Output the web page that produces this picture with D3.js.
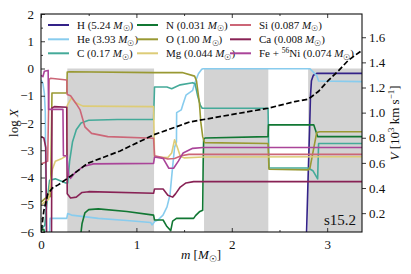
<!DOCTYPE html>
<html><head><meta charset="utf-8">
<script src="https://cdn.jsdelivr.net/npm/d3@7"></script>
<style>
body{margin:0;background:#fff;}
svg text{font-family:"Liberation Serif","DejaVu Serif",serif;fill:#111;}
</style></head><body><svg id="c" width="411" height="274"></svg>
<script>
// ---------- data ----------
const species = ["H","He","C","N","O","Mg","Si","Ca","Fe"];
const speciesMass = ["5.24","3.93","0.17","0.031","1.00","0.044","0.087","0.008","0.074"];
const speciesColor = ["#332288","#88CCEE","#44AA99","#117733","#999933","#DDCC77","#CC6677","#882255","#AA4499"];
const shadedZones = [[0.276,1.185],[1.709,2.383],[2.80,3.365]];

const H  = [[2.780,-6.5],[2.800,-4.0],[2.815,-2.3],[2.825,-1.0],[2.835,-0.45],[2.855,-0.25],[2.89,-0.18],[3.365,-0.18]];
const He = [[0,-0.42],[0.02,-0.55],[0.035,-0.9],[0.045,-1.6],[0.055,-6.5],[0.085,-6.5],[0.095,-5.5],[0.27,-5.5],[0.28,-5.32],[0.32,-5.38],[0.6,-5.5],[0.9,-5.58],[1.15,-5.65],[1.164,-5.74],[1.19,-5.62],[1.226,-5.56],[1.279,-5.38],[1.321,-5.08],[1.352,-4.64],[1.38,-3.6],[1.40,-2.9],[1.42,-2.7],[1.422,-1.62],[1.47,-1.52],[1.49,-1.29],[1.52,-0.98],[1.59,-0.8],[1.61,-0.56],[1.65,-0.19],[1.685,-0.03],[1.70,-0.01],[2.82,-0.01],[2.89,-0.26],[2.91,-0.46],[3.365,-0.48]];
const C  = [[0,-5.9],[0.04,-5.75],[0.06,-5.0],[0.09,-4.1],[0.15,-4.05],[0.26,-4.2],[0.28,-4.2],[0.30,-3.4],[0.33,-2.7],[0.37,-2.25],[0.42,-2.0],[0.5,-1.9],[0.8,-1.87],[1.18,-1.87],[1.19,-0.68],[1.32,-0.68],[1.37,-0.74],[1.42,-0.66],[1.46,-0.6],[1.59,-0.52],[1.615,-0.56],[1.64,-0.97],[1.67,-1.35],[1.69,-1.46],[2.38,-1.46],[2.385,-2.5],[2.39,-3.65],[2.8,-3.65],[2.85,-3.75],[2.9,-4.05],[2.91,-2.75],[3.365,-2.75]];
const N  = [[0,-5.95],[0.03,-5.9],[0.05,-6.3],[0.41,-6.3],[0.43,-5.7],[0.46,-5.3],[0.5,-5.18],[0.6,-5.15],[0.9,-5.25],[1.18,-5.38],[1.19,-5.56],[1.28,-5.56],[1.32,-5.8],[1.36,-5.95],[1.38,-5.6],[1.42,-5.5],[1.6,-5.5],[1.62,-5.4],[1.66,-5.26],[1.695,-5.2],[1.70,-3.5],[1.705,-2.6],[1.72,-2.55],[2.38,-2.5],[2.385,-2.07],[2.86,-2.07],[2.90,-2.5],[3.365,-2.5]];
const O  = [[0,-4.9],[0.05,-4.75],[0.10,-4.7],[0.115,-0.9],[0.27,-0.9],[0.275,-0.13],[0.3,-0.12],[1.18,-0.15],[1.48,-0.15],[1.61,-0.28],[1.63,-0.45],[1.66,-1.25],[1.675,-1.96],[1.695,-2.5],[1.715,-2.72],[2.38,-2.75],[2.39,-3.7],[2.8,-3.72],[2.82,-3.65],[2.89,-2.35],[2.92,-2.32],[3.365,-2.32]];
const Mg = [[0,-5.0],[0.04,-4.9],[0.08,-4.8],[0.10,-4.2],[0.12,-3.7],[0.15,-3.4],[0.22,-3.3],[0.27,-3.2],[0.275,-1.35],[0.30,-1.2],[0.32,-1.08],[0.36,-1.25],[0.44,-1.38],[1.18,-1.4],[1.19,-3.25],[1.33,-3.27],[1.37,-3.1],[1.40,-2.62],[1.43,-2.9],[1.46,-3.22],[1.5,-3.28],[1.7,-3.25],[3.365,-3.24]];
const Si = [[0,-3.5],[0.04,-3.45],[0.07,-3.4],[0.085,-0.4],[0.1,-0.36],[0.27,-0.42],[0.275,-0.95],[0.31,-1.0],[0.37,-1.3],[0.41,-1.52],[0.46,-2.14],[0.53,-2.38],[0.7,-2.5],[1.18,-2.56],[1.19,-3.2],[1.25,-3.25],[1.33,-3.32],[1.4,-3.3],[1.47,-3.2],[1.55,-3.15],[3.365,-3.15]];
const Ca = [[0,-2.5],[0.03,-2.55],[0.05,-2.9],[0.06,-6.5],[0.11,-6.5],[0.115,-1.45],[0.14,-1.4],[0.27,-1.42],[0.275,-4.6],[0.31,-4.75],[0.37,-4.72],[0.43,-4.55],[0.5,-4.52],[1.18,-4.58],[1.19,-4.42],[1.28,-4.42],[1.33,-4.65],[1.38,-4.72],[1.41,-4.6],[1.46,-4.35],[1.52,-4.2],[1.6,-4.15],[3.365,-4.15]];
const Fe = [[0,-0.25],[0.02,-0.3],[0.035,-0.1],[0.075,-0.07],[0.08,-1.5],[0.23,-1.5],[0.235,-3.2],[0.27,-3.2],[0.29,-3.95],[0.31,-4.03],[0.35,-3.85],[0.44,-3.6],[0.55,-3.5],[1.18,-3.48],[1.19,-3.25],[1.28,-3.3],[1.34,-3.66],[1.39,-3.66],[1.44,-3.4],[1.49,-3.1],[1.59,-2.93],[1.7,-2.9],[3.365,-2.9]];
const abundances = [H,He,C,N,O,Mg,Si,Ca,Fe];

const velocity = [[0,0.0],[0.01,0.1],[0.03,0.22],[0.07,0.35],[0.12,0.4],[0.18,0.425],[0.32,0.5],[0.49,0.597],[0.83,0.695],[1.18,0.823],[1.56,0.926],[1.98,0.982],[2.38,1.035],[2.66,1.088],[2.80,1.107],[2.86,1.14],[2.91,1.17],[3.01,1.255],[3.12,1.335],[3.22,1.415],[3.3,1.46],[3.355,1.49]];

const xTicks = [0,1,2,3];
const yTicks = [-6,-5,-4,-3,-2,-1,0,1,2];
const vTicks = [0.2,0.4,0.6,0.8,1.0,1.2,1.4,1.6];
const modelName = "s15.2";

// ---------- layout ----------
const L=41,R=362,T=14,B=232;
const svg=d3.select("#c");
const x=d3.scaleLinear([0,3.365],[L,R]);
const y=d3.scaleLinear([-6,2],[B,T]);
const yv=d3.scaleLinear([0.05,1.785],[B,T]);

svg.append("defs").append("clipPath").attr("id","pc").append("rect")
  .attr("x",L).attr("y",T).attr("width",R-L).attr("height",B-T);

// shading
svg.append("g").selectAll("rect").data(shadedZones).join("rect")
  .attr("x",d=>x(d[0])).attr("width",d=>x(d[1])-x(d[0]))
  .attr("y",y(0)).attr("height",y(-6)-y(0)).attr("fill","#d3d3d3");

const line=d3.line().x(d=>x(d[0])).y(d=>y(d[1]));
const g=svg.append("g").attr("clip-path","url(#pc)");
abundances.forEach((s,i)=>{
  g.append("path").attr("d",line(s)).attr("fill","none")
   .attr("stroke",speciesColor[i]).attr("stroke-width",1.6).attr("stroke-linejoin","round");
});
const vline=d3.line().x(d=>x(d[0])).y(d=>yv(d[1]));
g.append("path").attr("d",vline(velocity)).attr("fill","none")
  .attr("stroke","#000").attr("stroke-width",1.7).attr("stroke-dasharray","5.5,2.5");

// axes
const ax=svg.append("g");
ax.append("g").attr("transform",`translate(0,${B})`)
  .call(d3.axisBottom(x).tickValues(xTicks).tickSize(-4).tickPadding(8).tickFormat(d3.format("d")));
ax.append("g").attr("transform",`translate(0,${B})`)
  .call(d3.axisBottom(x).tickValues([0.5,1.5,2.5]).tickSize(-2).tickFormat(""));
ax.append("g").attr("transform",`translate(0,${T})`)
  .call(d3.axisTop(x).tickValues(xTicks).tickSize(-4).tickFormat(""));
ax.append("g").attr("transform",`translate(0,${T})`)
  .call(d3.axisTop(x).tickValues([0.5,1.5,2.5]).tickSize(-2).tickFormat(""));
ax.append("g").attr("transform",`translate(${L},0)`)
  .call(d3.axisLeft(y).tickValues(yTicks).tickSize(-4).tickPadding(7).tickFormat(d3.format("d")));
ax.append("g").attr("transform",`translate(${L},0)`)
  .call(d3.axisLeft(y).tickValues(d3.range(-5.5,2,1)).tickSize(-2).tickFormat(""));
ax.append("g").attr("transform",`translate(${R},0)`)
  .call(d3.axisRight(yv).tickValues(vTicks).tickSize(4).tickPadding(3).tickFormat(d3.format(".1f")));
ax.selectAll(".domain").remove();
ax.selectAll("line").attr("stroke","#222").attr("stroke-width",0.9);
ax.selectAll("text").attr("font-size",13).attr("font-family","Liberation Serif").attr("fill","#111");
svg.append("rect").attr("x",L).attr("y",T).attr("width",R-L).attr("height",B-T)
  .attr("fill","none").attr("stroke","#111").attr("stroke-width",1.1);

// axis labels
const yl=svg.append("text").attr("transform","translate(18,123) rotate(-90)")
  .attr("text-anchor","middle").attr("font-size",13);
yl.append("tspan").text("log ");
yl.append("tspan").attr("font-style","italic").text("X");

const xl=svg.append("text").attr("x",201).attr("y",259).attr("text-anchor","middle").attr("font-size",13);
xl.append("tspan").attr("font-style","italic").text("m");
xl.append("tspan").text(" [");
xl.append("tspan").attr("font-style","italic").text("M");
xl.append("tspan").attr("font-size",9).attr("dy",3).text("☉");
xl.append("tspan").attr("dy",-3).text("]");

const vl=svg.append("text").attr("transform","translate(399,123) rotate(-90)")
  .attr("text-anchor","middle").attr("font-size",13);
vl.append("tspan").attr("font-style","italic").text("V");
vl.append("tspan").text(" [10");
vl.append("tspan").attr("font-size",9).attr("dy",-5).text("3");
vl.append("tspan").attr("dy",5).text(" km s");
vl.append("tspan").attr("font-size",9).attr("dy",-5).text("−1");
vl.append("tspan").attr("dy",5).text("]");

svg.append("text").attr("x",356).attr("y",225).attr("text-anchor","end")
  .attr("font-size",15).text(modelName);

// legend
const colX=[48,137,230], rowY=[25,39.3,53.3];
species.forEach((s,i)=>{
  const c=Math.floor(i/3), r=i%3;
  const lx=colX[c], ly=rowY[r];
  svg.append("line").attr("x1",lx).attr("x2",lx+21).attr("y1",ly).attr("y2",ly)
    .attr("stroke",speciesColor[i]).attr("stroke-width",2);
  const t=svg.append("text").attr("x",lx+29).attr("y",ly+3.8).attr("font-size",11);
  if(s==="Fe"){
    t.append("tspan").text("Fe + ");
    t.append("tspan").attr("font-size",7.5).attr("dy",-4).text("56");
    t.append("tspan").attr("dy",4).text("Ni (" + speciesMass[i] + " ");
  } else {
    t.append("tspan").text(s + " (" + speciesMass[i] + " ");
  }
  t.append("tspan").attr("font-style","italic").text("M");
  t.append("tspan").attr("font-size",7.5).attr("dy",2.5).text("☉");
  t.append("tspan").attr("dy",-2.5).text(")");
});
</script></body></html>
